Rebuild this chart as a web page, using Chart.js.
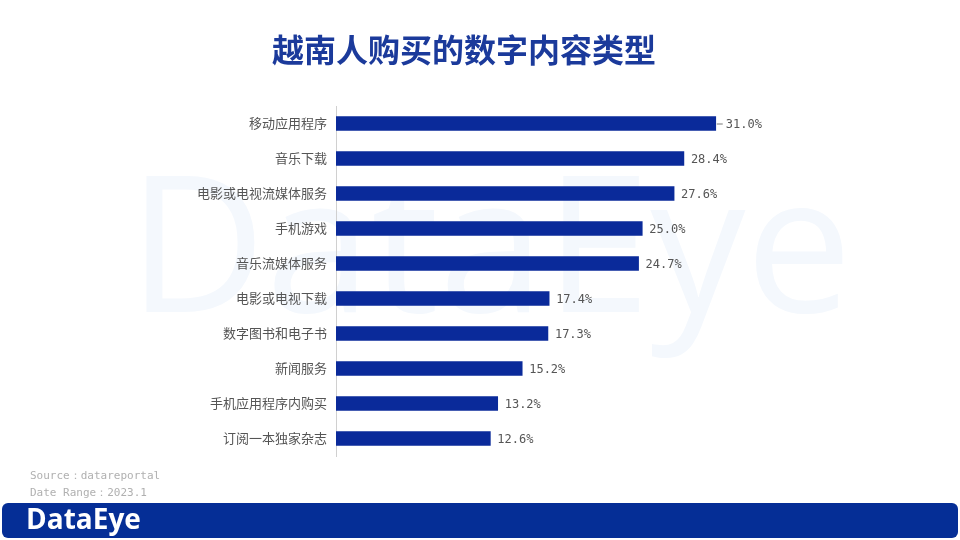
<!DOCTYPE html>
<html>
<head>
<meta charset="utf-8">
<script src="https://cdn.jsdelivr.net/npm/chart.js@4.4.0/dist/chart.umd.min.js"></script>
<style>
  html, body { margin: 0; padding: 0; background: #fff; }
  #wrap { width: 960px; height: 540px; position: relative; }
</style>
</head>
<body>
<div id="wrap"><canvas id="chart" width="960" height="540"></canvas></div>
<script>
// data
const categories = ['移动应用程序', '音乐下载', '电影或电视流媒体服务', '手机游戏', '音乐流媒体服务',
    '电影或电视下载', '数字图书和电子书', '新闻服务', '手机应用程序内购买', '订阅一本独家杂志'];
const shares = [31.0, 28.4, 27.6, 25.0, 24.7, 17.4, 17.3, 15.2, 13.2, 12.6];
const title = '越南人购买的数字内容类型';
const sourceLines = ['Source：datareportal', 'Date Range：2023.1'];

// background watermark, title, footer band
const decor = {
    id: 'decor',
    beforeDraw(chart) {
        const c = chart.ctx;
        c.save();
        c.fillStyle = '#fff';
        c.fillRect(0, 0, chart.width, chart.height);
        c.fillStyle = '#f4f8fd';
        c.font = '190px "Open Sans", sans-serif';
        c.textBaseline = 'middle';
        c.textAlign = 'center';
        c.fillText('DataEye', 490, 258);
        c.restore();
    },
    afterDraw(chart) {
        const c = chart.ctx;
        c.save();
        c.fillStyle = '#1b3a9b';
        c.font = 'bold 32px "Noto Sans CJK SC", sans-serif';
        c.textAlign = 'center';
        c.textBaseline = 'middle';
        c.fillText(title, 464, 50);

        c.fillStyle = '#b0b0b0';
        c.font = '11px "DejaVu Sans Mono", monospace';
        c.textAlign = 'left';
        c.fillText(sourceLines[0], 30, 476);
        c.fillText(sourceLines[1], 30, 493);

        c.fillStyle = '#052e96';
        c.beginPath();
        c.roundRect(2, 503, 956, 35, 6);
        c.fill();
        c.fillStyle = '#fff';
        c.font = 'bold 28px "Open Sans", sans-serif';
        c.fillText('DataEye', 26, 521);

        // value labels
        const meta = chart.getDatasetMeta(0);
        c.fillStyle = '#555';
        c.font = '12px "DejaVu Sans Mono", monospace';
        meta.data.forEach((bar, i) => {
            let x = bar.x + 7;
            if (i === 0) {
                c.strokeStyle = '#777';
                c.lineWidth = 1;
                c.beginPath();
                c.moveTo(bar.x + 1, bar.y + 0.5);
                c.lineTo(bar.x + 7, bar.y + 0.5);
                c.stroke();
                x = bar.x + 10;
            }
            c.fillText(shares[i].toFixed(1) + '%', x, bar.y + 1);
        });
        c.restore();
    }
};

new Chart(document.getElementById('chart'), {
    type: 'bar',
    data: {
        labels: categories,
        datasets: [{
            data: shares,
            backgroundColor: '#0a2a9a',
            barThickness: 14
        }]
    },
    options: {
        indexAxis: 'y',
        responsive: false,
        animation: false,
        layout: { padding: { top: 106, bottom: 84, right: 134, left: 0 } },
        plugins: { legend: { display: false }, tooltip: { enabled: false } },
        scales: {
            x: { display: false, min: 0, max: 40 },
            y: {
                afterFit(scale) { scale.width = 336; },
                grid: { display: false, drawTicks: false },
                border: { display: true, color: '#d0d0d0' },
                ticks: {
                    color: '#555',
                    padding: 9,
                    font: { size: 13, family: '"Noto Sans CJK SC", sans-serif' }
                }
            }
        }
    },
    plugins: [decor]
});
</script>
</body>
</html>
